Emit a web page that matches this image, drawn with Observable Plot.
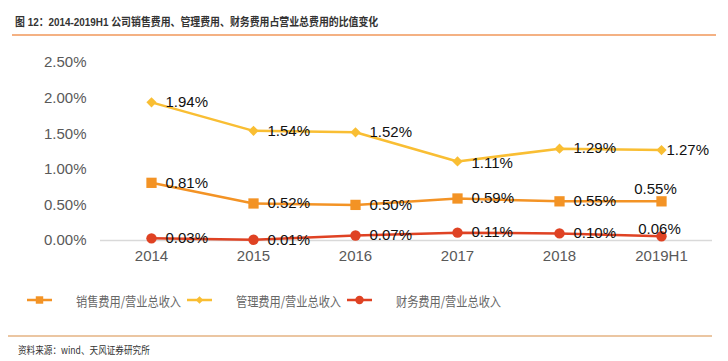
<!DOCTYPE html>
<html><head><meta charset="utf-8">
<script src="https://cdn.jsdelivr.net/npm/d3@7"></script>
<script src="https://cdn.jsdelivr.net/npm/@observablehq/plot@0.6"></script>
<style>
body{margin:0;background:#fff;width:728px;height:361px;position:relative;overflow:hidden;font-family:"Liberation Sans",Arial,"Noto Sans CJK SC",sans-serif;}
#title{position:absolute;left:15px;top:13px;font-size:11.5px;font-weight:bold;color:#333;font-family:"Liberation Sans","Noto Sans CJK SC",sans-serif;white-space:nowrap;transform:scaleX(0.86);transform-origin:left center;}
#tline{position:absolute;left:12px;top:34px;width:704px;height:2px;background:#F4B183;}
#chart{position:absolute;left:0;top:40px;}
#legend{position:absolute;left:0;top:290px;height:20px;width:728px;}
.item{position:absolute;top:0;height:20px;display:flex;align-items:center;}
.item svg{margin-right:24px;}
.item span{display:inline-block;font-size:13px;color:#666;font-family:"Noto Sans CJK SC",sans-serif;white-space:nowrap;transform:scaleX(0.86);transform-origin:left center;}
#sline{position:absolute;left:8px;top:335px;width:704px;height:2px;background:#EBC6A2;}
#source{position:absolute;left:18px;top:342px;font-size:10.5px;color:#333;font-family:"Noto Sans CJK SC",sans-serif;white-space:nowrap;transform:scaleX(0.82);transform-origin:left center;}
</style></head>
<body>
<div id="title">图 12：2014-2019H1 公司销售费用、管理费用、财务费用占营业总费用的比值变化</div>
<div id="tline"></div>
<div id="chart"></div>
<div id="legend"></div>
<div id="sline"></div>
<div id="source">资料来源：wind、天风证券研究所</div>
<script>
const years = ["2014","2015","2016","2017","2018","2019H1"];
const salesPct = [0.81,0.52,0.50,0.59,0.55,0.55];
const mgmtPct  = [1.94,1.54,1.52,1.11,1.29,1.27];
const finPct   = [0.03,0.01,0.07,0.11,0.10,0.06];
const seriesNames = ["销售费用/营业总收入","管理费用/营业总收入","财务费用/营业总收入"];
const yTicks = [0,0.005,0.01,0.015,0.02,0.025];

const colors = ["#F39325","#F9BE33","#DF4223"];
const symbols = ["square","diamond2","circle"];
const radii = [5.8,4.6,5.2];
const allVals = [salesPct, mgmtPct, finPct];

const rows = [];
allVals.forEach((vals, s) => vals.forEach((v, i) => rows.push({year: years[i], value: v/100, s, name: seriesNames[s]})));

// label placement rules (styling, not data)
function place(d){
  let dx = 14, dy = 0, anchor = "start";
  if (d.year === "2019H1") {
    if (d.s === 1) dx = 5;
    if (d.s === 0) { dx = -6; dy = -12; anchor = "middle"; }
    if (d.s === 2) { dx = -2; dy = -7; anchor = "middle"; }
  }
  if (d.year === "2017" && d.s === 1) dy = 2;
  return {dx, dy, anchor};
}

const labelMarks = rows.map(d => {
  const p = place(d);
  return Plot.text([d], {x: "year", y: "value", text: r => (r.value*100).toFixed(2) + "%", dx: p.dx, dy: p.dy, textAnchor: p.anchor, fill: "#111", fontSize: 15});
});

const drawOrder = [1,0,2];
const chart = Plot.plot({
  width: 728, height: 235,
  marginLeft: 100, marginRight: 16, marginTop: 22, marginBottom: 35,
  style: {fontFamily: "'Liberation Sans', Arial, sans-serif", fontSize: "15px", background: "transparent"},
  x: {type: "point", domain: years, padding: 0.5, label: null, tickSize: 0, tickPadding: 10},
  y: {domain: [0, 0.025], ticks: yTicks, tickFormat: d3.format(".2%"), label: null, tickSize: 0, tickPadding: 14},
  marks: [
    Plot.ruleY([0], {stroke: "#d9d9d9", strokeWidth: 1.5}),
    ...drawOrder.map(s => Plot.line(rows.filter(r => r.s === s), {x: "year", y: "value", stroke: colors[s], strokeWidth: 2.5})),
    ...drawOrder.map(s => Plot.dot(rows.filter(r => r.s === s), {x: "year", y: "value", fill: colors[s], symbol: symbols[s], r: radii[s]})),
    Plot.axisX({tickSize: 0, tickPadding: 10, fill: "#595959", fontSize: 15, label: null}),
    Plot.axisY({ticks: yTicks, tickFormat: d3.format(".2%"), tickSize: 0, tickPadding: 14, fill: "#595959", fontSize: 15, label: null}),
    ...labelMarks
  ]
});
document.getElementById("chart").appendChild(chart);

// legend
const legend = document.getElementById("legend");
const legendX = [27, 187, 347];
seriesNames.forEach((n, s) => {
  const div = document.createElement("div");
  div.className = "item";
  div.style.left = legendX[s] + "px";
  const sym = d3.symbol(s === 0 ? d3.symbolSquare : s === 1 ? d3.symbolDiamond2 : d3.symbolCircle, Math.PI * (s===0?4.2:s===1?3.4:4.2) ** 2)();
  div.innerHTML = `<svg width="25" height="14"><line x1="0" x2="25" y1="7" y2="7" stroke="${colors[s]}" stroke-width="2.5"/><path transform="translate(12.5,7)" d="${sym}" fill="${colors[s]}"/></svg><span>${n}</span>`;
  legend.appendChild(div);
});
</script>
</body></html>
